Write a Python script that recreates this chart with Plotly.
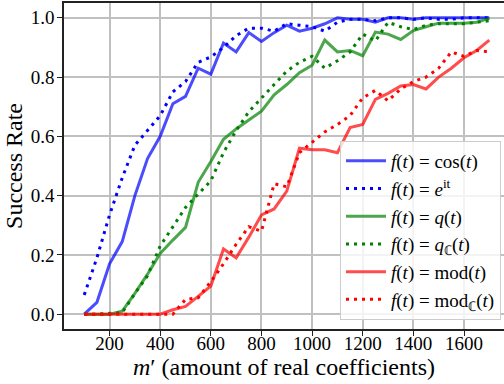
import plotly.graph_objects as go

m_prime = [100, 150, 200, 250, 300, 350, 400, 450, 500, 550, 600, 650, 700, 750, 800, 850,
           900, 950, 1000, 1050, 1100, 1150, 1200, 1250, 1300, 1350, 1400, 1450, 1500, 1550,
           1600, 1650, 1700]

rate_cos = [0.0, 0.04, 0.17, 0.245, 0.40, 0.525, 0.60, 0.71, 0.735, 0.83, 0.81, 0.915, 0.885,
            0.95, 0.92, 0.95, 0.975, 0.955, 0.965, 0.98, 1.0, 0.995, 0.995, 0.985, 1.0, 1.0,
            0.995, 1.0, 1.0, 1.0, 1.0, 1.0, 1.0]
rate_exp = [0.065, 0.19, 0.335, 0.46, 0.57, 0.62, 0.67, 0.75, 0.785, 0.85, 0.868, 0.90, 0.94,
            0.965, 0.965, 0.955, 0.98, 0.975, 0.97, 0.955, 0.985, 0.995, 0.995, 0.99, 1.0, 1.0,
            0.995, 1.0, 0.995, 0.995, 1.0, 1.0, 1.0]
rate_q = [0.0, 0.0, 0.0, 0.01, 0.07, 0.135, 0.205, 0.25, 0.293, 0.445, 0.515, 0.59, 0.625,
          0.655, 0.685, 0.74, 0.775, 0.815, 0.84, 0.925, 0.885, 0.89, 0.872, 0.952, 0.945,
          0.927, 0.957, 0.97, 0.982, 0.982, 0.982, 0.985, 0.998]
rate_qc = [0.0, 0.0, 0.003, 0.005, 0.07, 0.13, 0.23, 0.295, 0.36, 0.405, 0.45, 0.545, 0.62,
           0.683, 0.73, 0.775, 0.82, 0.85, 0.87, 0.83, 0.855, 0.885, 0.945, 0.922, 0.985, 0.97,
           0.96, 0.975, 0.98, 0.98, 0.98, 0.985, 0.99]
rate_mod = [0.0, 0.0, 0.0, 0.0, 0.0, 0.0, 0.0, 0.015, 0.026, 0.06, 0.095, 0.22, 0.19, 0.26,
            0.335, 0.355, 0.415, 0.56, 0.555, 0.555, 0.545, 0.63, 0.64, 0.725, 0.745, 0.77,
            0.775, 0.76, 0.80, 0.83, 0.865, 0.89, 0.925]
rate_modc = [0.0, 0.0, 0.0, 0.0, 0.0, 0.0, 0.0, 0.0, 0.05, 0.055, 0.11, 0.17, 0.236, 0.295,
             0.28, 0.44, 0.43, 0.545, 0.58, 0.615, 0.64, 0.67, 0.73, 0.755, 0.72, 0.76, 0.785,
             0.80, 0.83, 0.885, 0.87, 0.89, 0.885]

EQ = " = "
names = [
    f"<i>f</i>(<i>t</i>){EQ}cos(<i>t</i>)",
    f"<i>f</i>(<i>t</i>){EQ}<i>e</i><sup>it</sup>",
    f"<i>f</i>(<i>t</i>){EQ}<i>q</i>(<i>t</i>)",
    f"<i>f</i>(<i>t</i>){EQ}<i>q</i><sub>ℂ</sub>(<i>t</i>)",
    f"<i>f</i>(<i>t</i>){EQ}mod(<i>t</i>)",
    f"<i>f</i>(<i>t</i>){EQ}mod<sub>ℂ</sub>(<i>t</i>)",
]
series = [rate_cos, rate_exp, rate_q, rate_qc, rate_mod, rate_modc]
colors = ["rgba(0,0,255,0.7)", "rgb(0,0,255)", "rgba(0,128,0,0.7)", "rgb(0,128,0)",
          "rgba(255,0,0,0.7)", "rgb(255,0,0)"]
dashes = ["solid", "3px,5px", "solid", "3px,5px", "solid", "3px,5px"]

FONT = "Liberation Serif"

fig = go.Figure()
for nm, ys, c, d in zip(names, series, colors, dashes):
    fig.add_trace(go.Scatter(x=m_prime, y=ys, mode="lines", name=nm,
                             line=dict(color=c, width=3, dash=d)))

fig.update_layout(
    width=504, height=384,
    margin=dict(l=64, r=0, t=3, b=55),
    paper_bgcolor="white", plot_bgcolor="white",
    font=dict(family=FONT, color="black", size=18),
    showlegend=True,
    legend=dict(x=1 - 3 / 440, xanchor="right", y=9 / 326, yanchor="bottom",
                bgcolor="rgba(255,255,255,0.8)", bordercolor="#cccccc", borderwidth=1,
                font=dict(family=FONT, size=19), tracegroupgap=0,
                itemwidth=40, entrywidth=125, entrywidthmode="pixels"),
    xaxis=dict(range=[20, 1758], tickvals=[200, 400, 600, 800, 1000, 1200, 1400, 1600],
               ticks="outside", ticklen=5, tickwidth=1.2, tickcolor="#222",
               showline=True, linecolor="#222", linewidth=1.5, mirror=True,
               showgrid=True, gridcolor="#c0c0c0", gridwidth=1.5, zeroline=False,
               tickfont=dict(family=FONT, size=19), ticklabelstandoff=-9,
               title=dict(text="<i>m</i>′ (amount of real coefficients)",
                          font=dict(family=FONT, size=24), standoff=0)),
    yaxis=dict(range=[-0.05, 1.05], tickvals=[0, 0.2, 0.4, 0.6, 0.8, 1.0],
               ticktext=["0.0", "0.2", "0.4", "0.6", "0.8", "1.0"],
               ticks="outside", ticklen=5, tickwidth=1.2, tickcolor="#222",
               showline=True, linecolor="#222", linewidth=1.5,
               showgrid=True, gridcolor="#c0c0c0", gridwidth=1.5, zeroline=False,
               tickfont=dict(family=FONT, size=19), ticklabelstandoff=-1,
               title=dict(text="Success Rate", font=dict(family=FONT, size=24), standoff=1)),
)

fig.write_html("out.html")
